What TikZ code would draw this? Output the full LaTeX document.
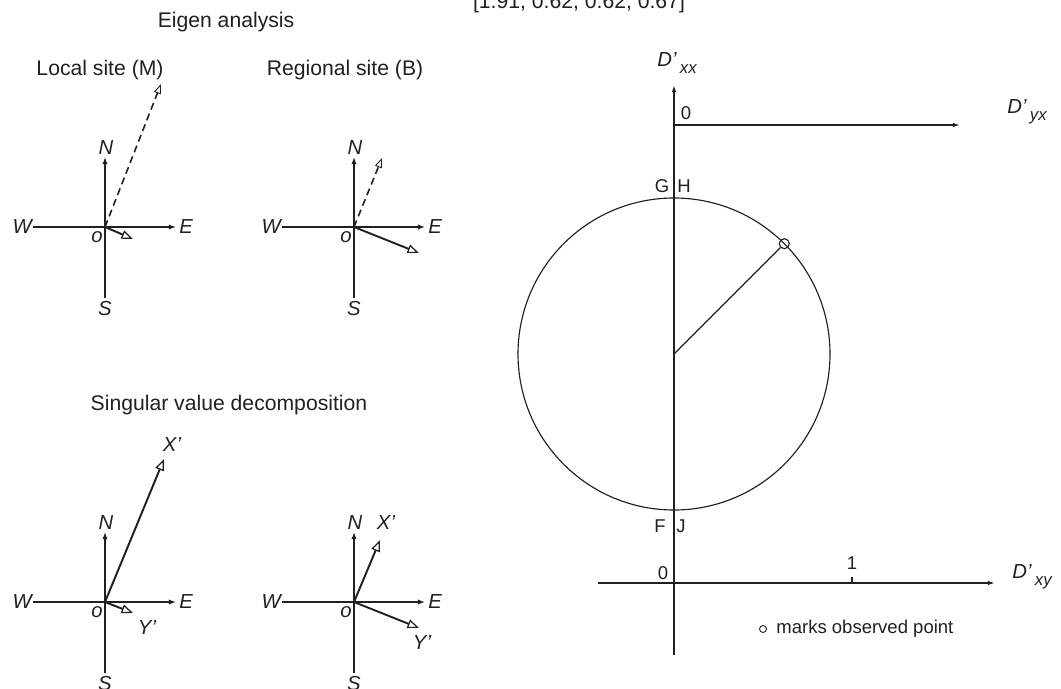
\documentclass[tikz,border=0pt]{standalone}
\usepackage{fontspec}
\setmainfont{Liberation Sans}
\usetikzlibrary{arrows.meta,calc}
\definecolor{ink}{HTML}{231F20}
\newcommand\mycompass[3]{%
  \coordinate (#1o) at (#2,#3);
  \coordinate (#1w) at (#2-72,#3);
  \coordinate (#1e) at (#2+71,#3);
  \coordinate (#1n) at (#2,#3-70);
  \coordinate (#1s) at (#2,#3+71);
  \node[lab] (#1N) at (#2+1,#3-79) {N};
  \node[lab] (#1S) at (#2,#3+82) {S};
  \node[lab,anchor=east] (#1W) at (#2-73,#3) {W};
  \node[lab,anchor=west] (#1E) at (#2+74,#3) {E};
  \node[lab] (#1O) at (#2-8,#3+10) {o};
  \draw[plain] (#1o) -- (#1w);
  \draw[axis] (#1o) -- (#1e);
  \draw[axis] (#1o) -- (#1n);
  \draw[plain] (#1o) -- (#1s);
}
\begin{document}
\begin{tikzpicture}[x=0.5669pt,y=-0.5669pt,
  every node/.style={text=ink},
  title/.style={font=\fontsize{12}{14}\selectfont, inner sep=0},
  lab/.style={font=\fontsize{11.5}{13}\selectfont\itshape, inner sep=0},
  small/.style={font=\fontsize{10.5}{12}\selectfont, inner sep=0},
  axis/.style={draw=ink, line width=1.1pt, -{Latex[length=4pt,width=3pt]}},
  plain/.style={draw=ink, line width=1.1pt},
  vec/.style={draw=ink, line width=1.1pt, -{Triangle[open,length=6.5pt,width=5pt,line width=0.7pt]}},
  dvec/.style={draw=ink, line width=0.9pt, dash pattern=on 4pt off 2.5pt, -{Triangle[open,length=5.5pt,width=4pt,line width=0.5pt]}},
  thin/.style={draw=ink, line width=0.65pt},
  thinaxis/.style={draw=ink, line width=0.75pt, -{Latex[length=4pt,width=2.5pt]}},
]
\useasboundingbox (0,0) rectangle (1061,689);

% titles
\node[title,anchor=base] (range) at (579,8.3) {[1.91, 0.62, 0.62, 0.67]};
\node[title] (eigen) at (226,22) {Eigen analysis};
\node[title] (local) at (100,70) {Local site (M)};
\node[title] (regional) at (345,70) {Regional site (B)};
\node[title] (svd) at (229,405) {Singular value decomposition};

% compasses
\mycompass{a}{105}{227}
\mycompass{b}{354}{227}
\mycompass{c}{105}{602}
\mycompass{d}{354}{602}

% vectors, eigen analysis
\coordinate (av1) at (133,239);
\coordinate (av2) at (161,84);
\draw[vec] (ao) -- (av1);
\draw[dvec] (ao) -- (av2);
\coordinate (bv1) at (419,253);
\coordinate (bv2) at (382,158);
\draw[vec] (bo) -- (bv1);
\draw[dvec] (bo) -- (bv2);

% vectors, SVD
\coordinate (cx) at (164,459);
\coordinate (cy) at (133,613);
\draw[vec] (co) -- (cx);
\draw[vec] (co) -- (cy);
\node[lab] (cX) at (172,445) {X’};
\node[lab] (cY) at (147,628) {Y’};
\coordinate (dx) at (380,540);
\coordinate (dy) at (419,628);
\draw[vec] (do) -- (dx);
\draw[vec] (do) -- (dy);
\node[lab] (dX) at (386,523) {X’};
\node[lab] (dY) at (422,643) {Y’};

% right diagram
\coordinate (vb) at (674,655);
\coordinate (vt) at (674,85);
\draw[thinaxis] (vb) -- (vt);
\coordinate (tl) at (674,125);
\coordinate (tr) at (960,125);
\draw[thinaxis] (tl) -- (tr);
\coordinate (bl) at (598,583);
\coordinate (br) at (995,583);
\draw[thinaxis] (bl) -- (br);
\coordinate (tick) at (852,583);
\coordinate (ticktop) at (852,577);
\draw[thin] (tick) -- (ticktop);

\coordinate (cc) at (674,354);
\node[draw=ink,circle,line width=0.65pt,minimum size=312*0.5669pt,inner sep=0] (mohr) at (cc) {};
\coordinate (obsc) at (784.3,243.7);
\node[draw=ink,circle,line width=0.65pt,minimum size=10*0.5669pt,inner sep=0] (obs) at (obsc) {};
\draw[thin] (cc) -- (obs);

\node[lab,anchor=west] (dxx) at (657,63) {D’\,\raisebox{-4pt}{\fontsize{9.5}{11}\selectfont xx}};
\node[lab,anchor=west] (dyx) at (1007,112) {D’\,\raisebox{-4pt}{\fontsize{9.5}{11}\selectfont yx}};
\node[lab,anchor=west] (dxy) at (1012,577) {D’\,\raisebox{-4pt}{\fontsize{9.5}{11}\selectfont xy}};
\node[small] (zt) at (686,113) {0};
\node[small] (zb) at (663,573) {0};
\node[small] (one) at (852,563) {1};
\node[small] (G) at (662,186) {G};
\node[small] (H) at (684,186) {H};
\node[small] (F) at (660,526) {F};
\node[small] (J) at (681,526) {J};

\node[draw=ink,circle,line width=0.5pt,minimum size=7*0.5669pt,inner sep=0] (legc) at (763,629) {};
\node[small,anchor=west] (legt) at (776,629) {marks observed point};
\end{tikzpicture}
\end{document}
